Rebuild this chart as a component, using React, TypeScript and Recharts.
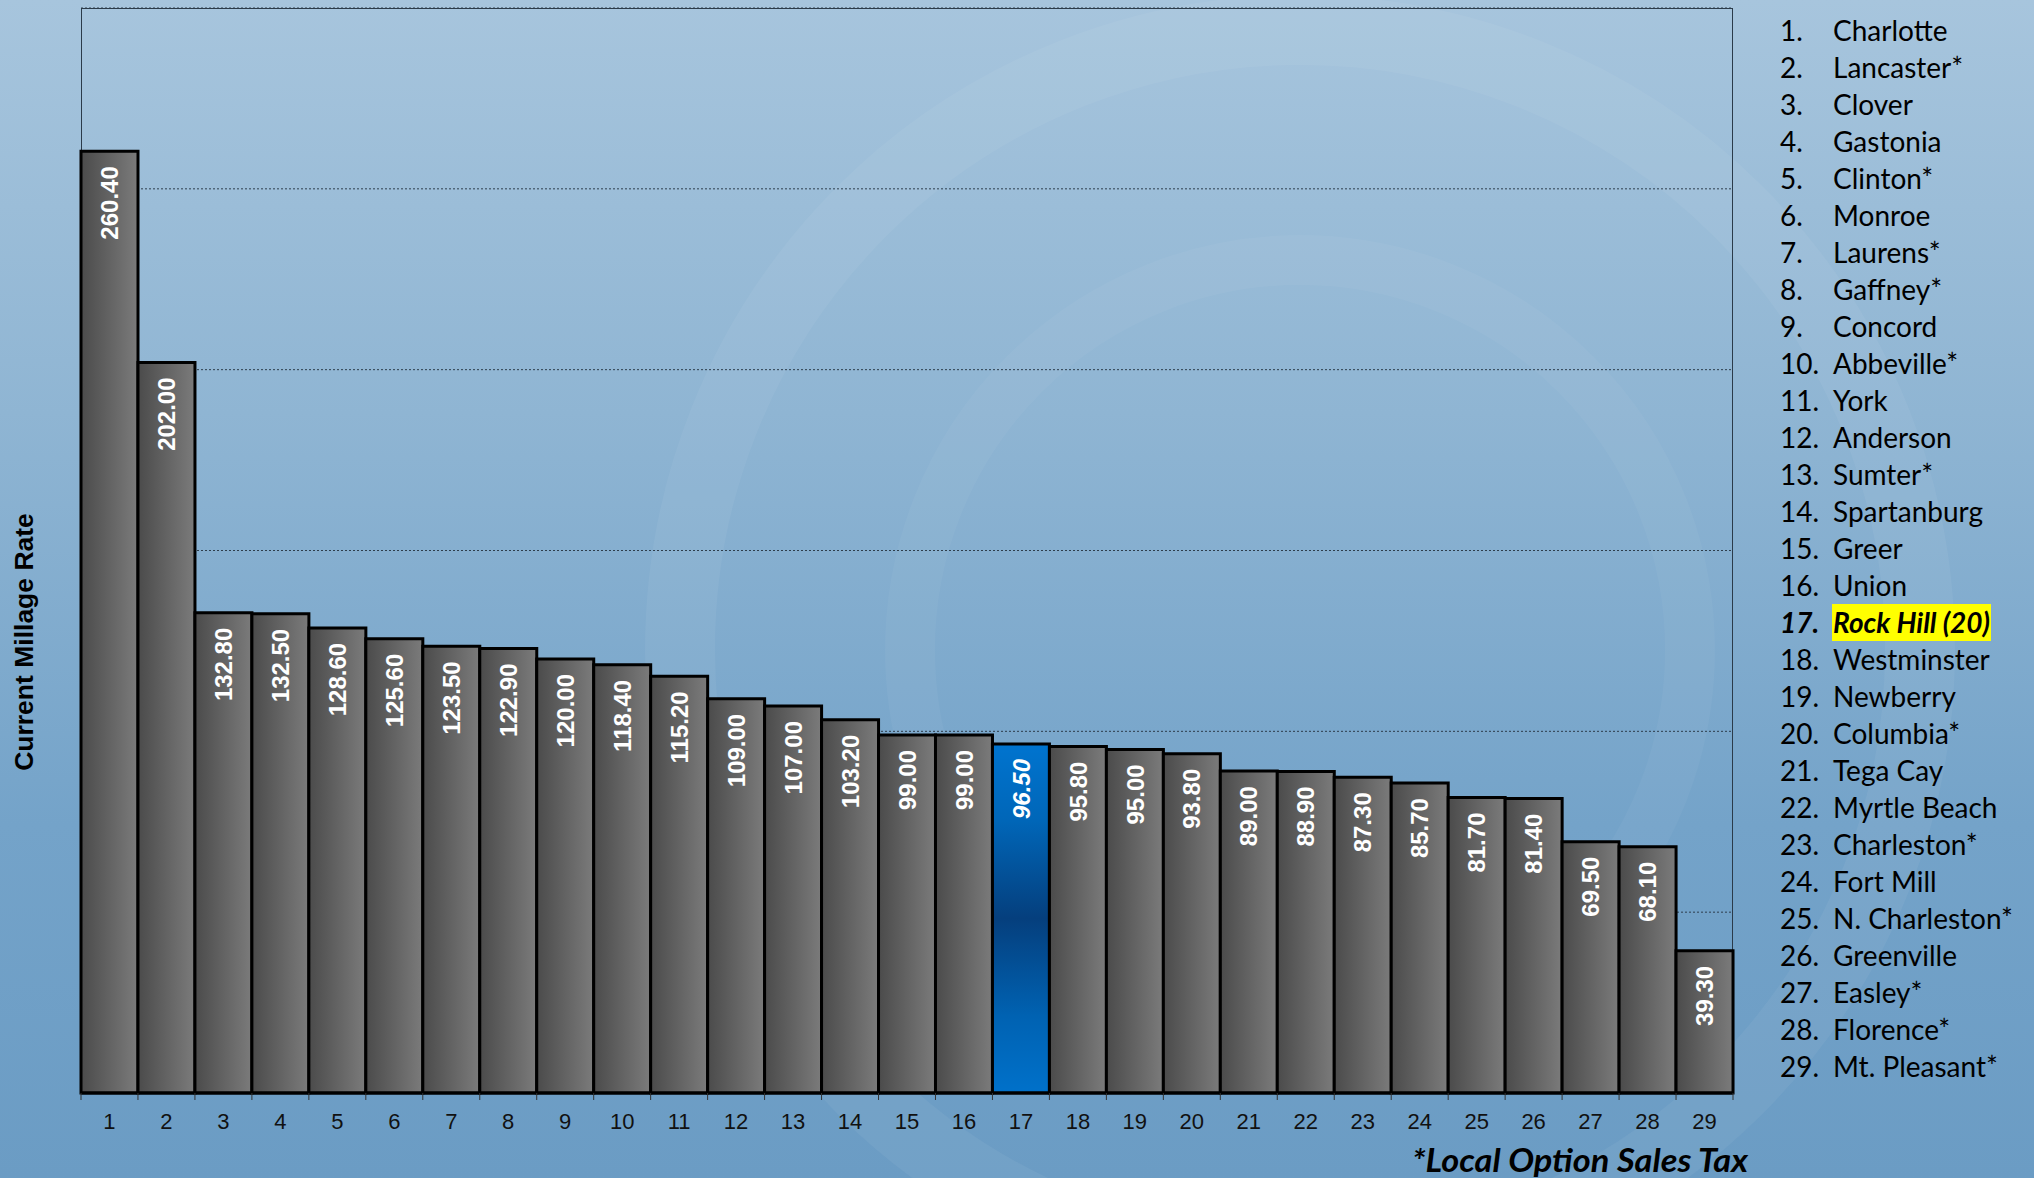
import React from "react";
import { BarChart, Bar, XAxis, YAxis, CartesianGrid, Cell, LabelList } from "recharts";

// rank on the x axis, millage per city, legend names in the same order
const ranks = ["1", "2", "3", "4", "5", "6", "7", "8", "9", "10", "11", "12", "13", "14", "15",
  "16", "17", "18", "19", "20", "21", "22", "23", "24", "25", "26", "27", "28", "29"];
const millage = [260.4, 202.0, 132.8, 132.5, 128.6, 125.6, 123.5, 122.9, 120.0, 118.4, 115.2, 109.0,
  107.0, 103.2, 99.0, 99.0, 96.5, 95.8, 95.0, 93.8, 89.0, 88.9, 87.3, 85.7, 81.7, 81.4, 69.5, 68.1, 39.3];
const cities = ["Charlotte", "Lancaster*", "Clover", "Gastonia", "Clinton*", "Monroe", "Laurens*",
  "Gaffney*", "Concord", "Abbeville*", "York", "Anderson", "Sumter*", "Spartanburg", "Greer", "Union",
  "Rock Hill (20)", "Westminster", "Newberry", "Columbia*", "Tega Cay", "Myrtle Beach", "Charleston*",
  "Fort Mill", "N. Charleston*", "Greenville", "Easley*", "Florence*", "Mt. Pleasant*"];
const highlightRank = "17";
const yTicks = [0, 50, 100, 150, 200, 250, 300];

const rows = ranks.map((rank, i) => ({ rank, value: millage[i] }));

const ARIAL = "'Liberation Sans', Arial, sans-serif";
const CALIBRI = "Lato, 'Open Sans', sans-serif";

function RankTick(props: any) {
  const { x, y, payload, index, visibleTicksCount, width } = props;
  const half = payload && payload.offset ? payload.offset : width / visibleTicksCount / 2;
  return (
    <g>
      <line x1={x - half} x2={x - half} y1={y} y2={y + 7} stroke="#333" strokeWidth={1} />
      {index === visibleTicksCount - 1 && (
        <line x1={x + half} x2={x + half} y1={y} y2={y + 7} stroke="#333" strokeWidth={1} />
      )}
      <text x={x} y={y + 36} textAnchor="middle" fontSize={22} fill="#111" fontFamily={ARIAL}>
        {payload.value}
      </text>
    </g>
  );
}

function ValueLabel(props: any) {
  const { x, y, width, value, index } = props;
  const cx = x + width / 2;
  const ty = y + 15;
  const hl = ranks[index] === highlightRank;
  return (
    <text
      x={cx}
      y={ty}
      dy="0.36em"
      transform={`rotate(-90 ${cx} ${ty})`}
      textAnchor="end"
      fontSize={24}
      fontWeight="bold"
      fontStyle={hl ? "italic" : "normal"}
      fill="#fff"
      fontFamily={ARIAL}
    >
      {Number(value).toFixed(2)}
    </text>
  );
}

export default function App() {
  return (
    <div
      style={{
        position: "absolute",
        left: 0,
        top: 0,
        width: 2034,
        height: 1178,
        overflow: "hidden",
        background: "linear-gradient(180deg, #a7c5dd 0%, #8fb5d3 35%, #74a3c9 70%, #6b9cc4 100%)",
      }}
    >
      {/* faint watermark rings in the backdrop */}
      <svg width={2034} height={1178} style={{ position: "absolute", left: 0, top: 0 }}>
        <circle cx={1300} cy={650} r={620} fill="none" stroke="#ffffff" strokeOpacity={0.05} strokeWidth={70} />
        <circle cx={1300} cy={650} r={390} fill="none" stroke="#ffffff" strokeOpacity={0.04} strokeWidth={50} />
      </svg>
      {/* plot frame */}
      <div
        style={{
          position: "absolute",
          left: 81,
          top: 8,
          width: 1652,
          height: 1085,
          boxSizing: "border-box",
          border: "1px solid #2b3b4a",
          borderBottom: "none",
        }}
      />
      <div style={{ position: "absolute", left: 0, top: 0 }}>
        <BarChart
          width={2034}
          height={1178}
          data={rows}
          margin={{ top: 8, right: 301, bottom: 25, left: 81 }}
          barCategoryGap={0}
        >
          <defs>
            <linearGradient id="grayGrad" x1="0" y1="0" x2="1" y2="0">
              <stop offset="0%" stopColor="#4b4b4b" />
              <stop offset="100%" stopColor="#7b7b7b" />
            </linearGradient>
            <linearGradient id="blueGrad" x1="0" y1="0" x2="0" y2="1">
              <stop offset="0%" stopColor="#0074cf" />
              <stop offset="22%" stopColor="#0066b8" />
              <stop offset="50%" stopColor="#053f7d" />
              <stop offset="78%" stopColor="#0062b2" />
              <stop offset="100%" stopColor="#0071ca" />
            </linearGradient>
          </defs>
          <CartesianGrid vertical={false} stroke="#2e3e4c" strokeDasharray="2 2" />
          <YAxis hide domain={[0, 300]} ticks={yTicks} />
          <XAxis
            dataKey="rank"
            height={60}
            tickLine={false}
            tickSize={0}
            tickMargin={0}
            axisLine={{ stroke: "#000", strokeWidth: 3 }}
            tick={<RankTick />}
            interval={0}
          />
          <Bar dataKey="value" stroke="#000" strokeWidth={3} isAnimationActive={false}>
            {rows.map((r) => (
              <Cell key={r.rank} fill={r.rank === highlightRank ? "url(#blueGrad)" : "url(#grayGrad)"} />
            ))}
            <LabelList dataKey="value" content={<ValueLabel />} />
          </Bar>
        </BarChart>
      </div>

      {/* axis title and footnote */}
      <svg width={2034} height={1178} style={{ position: "absolute", left: 0, top: 0, pointerEvents: "none" }}>
        <text
          x={33}
          y={642}
          transform="rotate(-90 33 642)"
          textAnchor="middle"
          fontSize={26.5}
          fontWeight="bold"
          fill="#000"
          fontFamily={ARIAL}
        >
          Current Millage Rate
        </text>
        <text
          x={1412}
          y={1172}
          fontSize={32}
          fontWeight="bold"
          fontStyle="italic"
          fill="#000"
          fontFamily={CALIBRI}
          textLength={336}
          lengthAdjust="spacingAndGlyphs"
        >
          *Local Option Sales Tax
        </text>
      </svg>

      {/* ranked city list */}
      <div style={{ position: "absolute", left: 1780, top: 12, fontFamily: CALIBRI, fontSize: 28, color: "#000" }}>
        {cities.map((c, i) => {
          const hl = ranks[i] === highlightRank;
          return (
            <div key={c} style={{ height: 37, lineHeight: "37px", whiteSpace: "nowrap", position: "relative" }}>
              <span
                style={{
                  position: "absolute",
                  left: 0,
                  fontWeight: hl ? "bold" : "normal",
                  fontStyle: hl ? "italic" : "normal",
                }}
              >
                {ranks[i]}.
              </span>
              <span
                style={{
                  position: "absolute",
                  left: 52,
                  display: "inline-block",
                  height: 37,
                  padding: "0 1px",
                  fontWeight: hl ? "bold" : "normal",
                  fontStyle: hl ? "italic" : "normal",
                  background: hl ? "#ffff00" : "transparent",
                }}
              >
                {c}
              </span>
            </div>
          );
        })}
      </div>
    </div>
  );
}
